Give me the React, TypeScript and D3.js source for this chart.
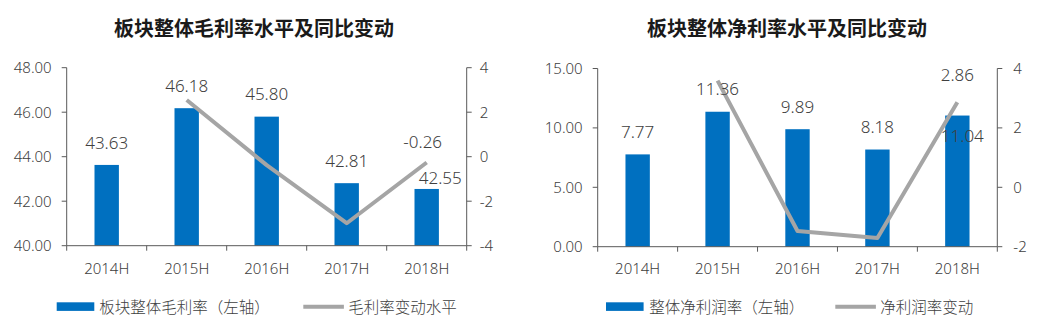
import React from 'react';
import * as d3 from 'd3';

const categories = ['2014H', '2015H', '2016H', '2017H', '2018H'];
const grossMargin = [43.63, 46.18, 45.8, 42.81, 42.55];
const grossMarginChange: (number | null)[] = [null, 2.55, -0.38, -2.99, -0.26];
const netMargin = [7.77, 11.36, 9.89, 8.18, 11.04];
const netMarginChange: (number | null)[] = [null, 3.59, -1.47, -1.71, 2.86];
const grossLeftTicks = [40, 42, 44, 46, 48];
const grossRightTicks = [-4, -2, 0, 2, 4];
const netLeftTicks = [0, 5, 10, 15];
const netRightTicks = [-2, 0, 2, 4];
const titles = ['板块整体毛利率水平及同比变动', '板块整体净利率水平及同比变动'];
const barLegends = ['板块整体毛利率（左轴）', '整体净利润率（左轴）'];
const lineLegends = ['毛利率变动水平', '净利润率变动'];

const BLUE = '#0070C0';
const GREY = '#A5A5A5';
const AXIS = '#595959';
const TEXT = '#404040';
const FONT = "'Noto Sans', 'Noto Sans CJK SC', sans-serif";
const W = 300;

type PanelProps = {
  x0: number; x1: number; yTop: number; yBottom: number;
  leftTicks: number[]; rightTicks: number[];
  bars: number[]; line: (number | null)[];
  title: string; titleX: number;
  barLegend: string; lineLegend: string;
  legendX: number; legendTextX: number; lineLegendX: number; lineLegendTextX: number;
  lastBarDx: number; lastBarDy: number; lineLabelDx: number; lineLabelDy: number;
  rightLabelGap: number;
};

function Panel(p: PanelProps) {
  const x = d3.scaleBand<string>().domain(categories).range([p.x0, p.x1]).paddingInner(0).paddingOuter(0);
  const yL = d3.scaleLinear().domain([p.leftTicks[0], p.leftTicks[p.leftTicks.length - 1]]).range([p.yBottom, p.yTop]);
  const yR = d3.scaleLinear().domain([p.rightTicks[0], p.rightTicks[p.rightTicks.length - 1]]).range([p.yBottom, p.yTop]);
  const bw = x.bandwidth() * 0.305;
  const cx = (c: string) => (x(c) as number) + x.bandwidth() / 2;
  const linePts = categories
    .map((c, i) => ({ c, v: p.line[i] }))
    .filter((d) => d.v !== null) as { c: string; v: number }[];
  const lineGen = d3.line<{ c: string; v: number }>().x((d) => cx(d.c)).y((d) => yR(d.v));
  const n = categories.length;
  const lastLine = linePts[linePts.length - 1];
  const boundaries = d3.range(n + 1).map((i) => p.x0 + i * x.step());
  return (
    <g fontFamily={FONT}>
      <text x={p.titleX} y={28.5} dy="0.36em" textAnchor="middle" fontSize={20} fontWeight="bold" fill="#1a1a1a">
        {p.title}
      </text>
      {categories.map((c, i) => (
        <rect key={c} x={cx(c) - bw / 2} y={yL(p.bars[i])} width={bw} height={p.yBottom - yL(p.bars[i])} fill={BLUE} />
      ))}
      <line x1={p.x0} x2={p.x0} y1={p.yTop} y2={p.yBottom} stroke={AXIS} strokeWidth={1} />
      {p.leftTicks.map((t) => (
        <g key={'l' + t}>
          <line x1={p.x0 - 5} x2={p.x0} y1={yL(t)} y2={yL(t)} stroke={AXIS} />
          <text x={p.x0 - 15} y={yL(t)} dy="0.36em" textAnchor="end" fontSize={15} fontWeight={W} fill={TEXT}>
            {t.toFixed(2)}
          </text>
        </g>
      ))}
      <line x1={p.x1} x2={p.x1} y1={p.yTop} y2={p.yBottom} stroke={AXIS} strokeWidth={1} />
      {p.rightTicks.map((t) => (
        <g key={'r' + t}>
          <line x1={p.x1} x2={p.x1 + 5} y1={yR(t)} y2={yR(t)} stroke={AXIS} />
          <text x={p.x1 + p.rightLabelGap} y={yR(t)} dy="0.36em" textAnchor="start" fontSize={15} fontWeight={W} fill={TEXT}>
            {String(t)}
          </text>
        </g>
      ))}
      <line x1={p.x0} x2={p.x1} y1={p.yBottom} y2={p.yBottom} stroke={AXIS} strokeWidth={1} />
      {boundaries.map((b, i) => (
        <line key={'b' + i} x1={b} x2={b} y1={p.yBottom} y2={p.yBottom + 5} stroke={AXIS} />
      ))}
      {categories.map((c) => (
        <text key={'x' + c} x={cx(c)} y={268.3} dy="0.36em" textAnchor="middle" fontSize={15} fontWeight={W} fill={TEXT}>
          {c}
        </text>
      ))}
      <path d={lineGen(linePts) || ''} fill="none" stroke={GREY} strokeWidth={4} strokeLinejoin="round" />
      {categories.map((c, i) => {
        const last = i === n - 1;
        return (
          <text
            key={'bl' + c}
            x={cx(c) + (last ? p.lastBarDx : 0)}
            y={yL(p.bars[i]) + (last ? p.lastBarDy : -22.5)}
            dy="0.36em"
            textAnchor="middle"
            fontSize={17}
            fontWeight={W}
            fill={TEXT}
          >
            {p.bars[i].toFixed(2)}
          </text>
        );
      })}
      {lastLine && (
        <text x={cx(lastLine.c) + p.lineLabelDx} y={yR(lastLine.v) + p.lineLabelDy} dy="0.36em" textAnchor="middle" fontSize={17} fontWeight={W} fill={TEXT}>
          {lastLine.v.toFixed(2)}
        </text>
      )}
      <rect x={p.legendX} y={302.3} width={37.6} height={8.6} fill={BLUE} />
      <text x={p.legendTextX} y={306.8} dy="0.38em" fontSize={15.5} fontWeight={W} fill={TEXT}>
        {p.barLegend}
      </text>
      <line x1={p.lineLegendX} x2={p.lineLegendX + 40.6} y1={306.7} y2={306.7} stroke={GREY} strokeWidth={4} />
      <text x={p.lineLegendTextX} y={306.8} dy="0.38em" fontSize={15.5} fontWeight={W} fill={TEXT}>
        {p.lineLegend}
      </text>
    </g>
  );
}

export default function App() {
  return (
    <svg width={1049} height={327} style={{ position: 'absolute', left: 0, top: 0, background: '#fff' }}>
      <rect width={1049} height={327} fill="#fff" />
      <Panel
        x0={66.7} x1={466.7} yTop={67.7} yBottom={245.7}
        leftTicks={grossLeftTicks} rightTicks={grossRightTicks}
        bars={grossMargin} line={grossMarginChange}
        title={titles[0]} titleX={254}
        barLegend={barLegends[0]} lineLegend={lineLegends[0]}
        legendX={56.7} legendTextX={99.3} lineLegendX={303.3} lineLegendTextX={348.3}
        lastBarDx={13.6} lastBarDy={-10.7} lineLabelDx={-4} lineLabelDy={-21}
        rightLabelGap={13}
      />
      <Panel
        x0={597.7} x1={997.3} yTop={68.5} yBottom={246.7}
        leftTicks={netLeftTicks} rightTicks={netRightTicks}
        bars={netMargin} line={netMarginChange}
        title={titles[1]} titleX={787}
        barLegend={barLegends[1]} lineLegend={lineLegends[1]}
        legendX={606} legendTextX={649.2} lineLegendX={835.3} lineLegendTextX={880.2}
        lastBarDx={5} lastBarDy={20} lineLabelDx={0} lineLabelDy={-27}
        rightLabelGap={16}
      />
    </svg>
  );
}
